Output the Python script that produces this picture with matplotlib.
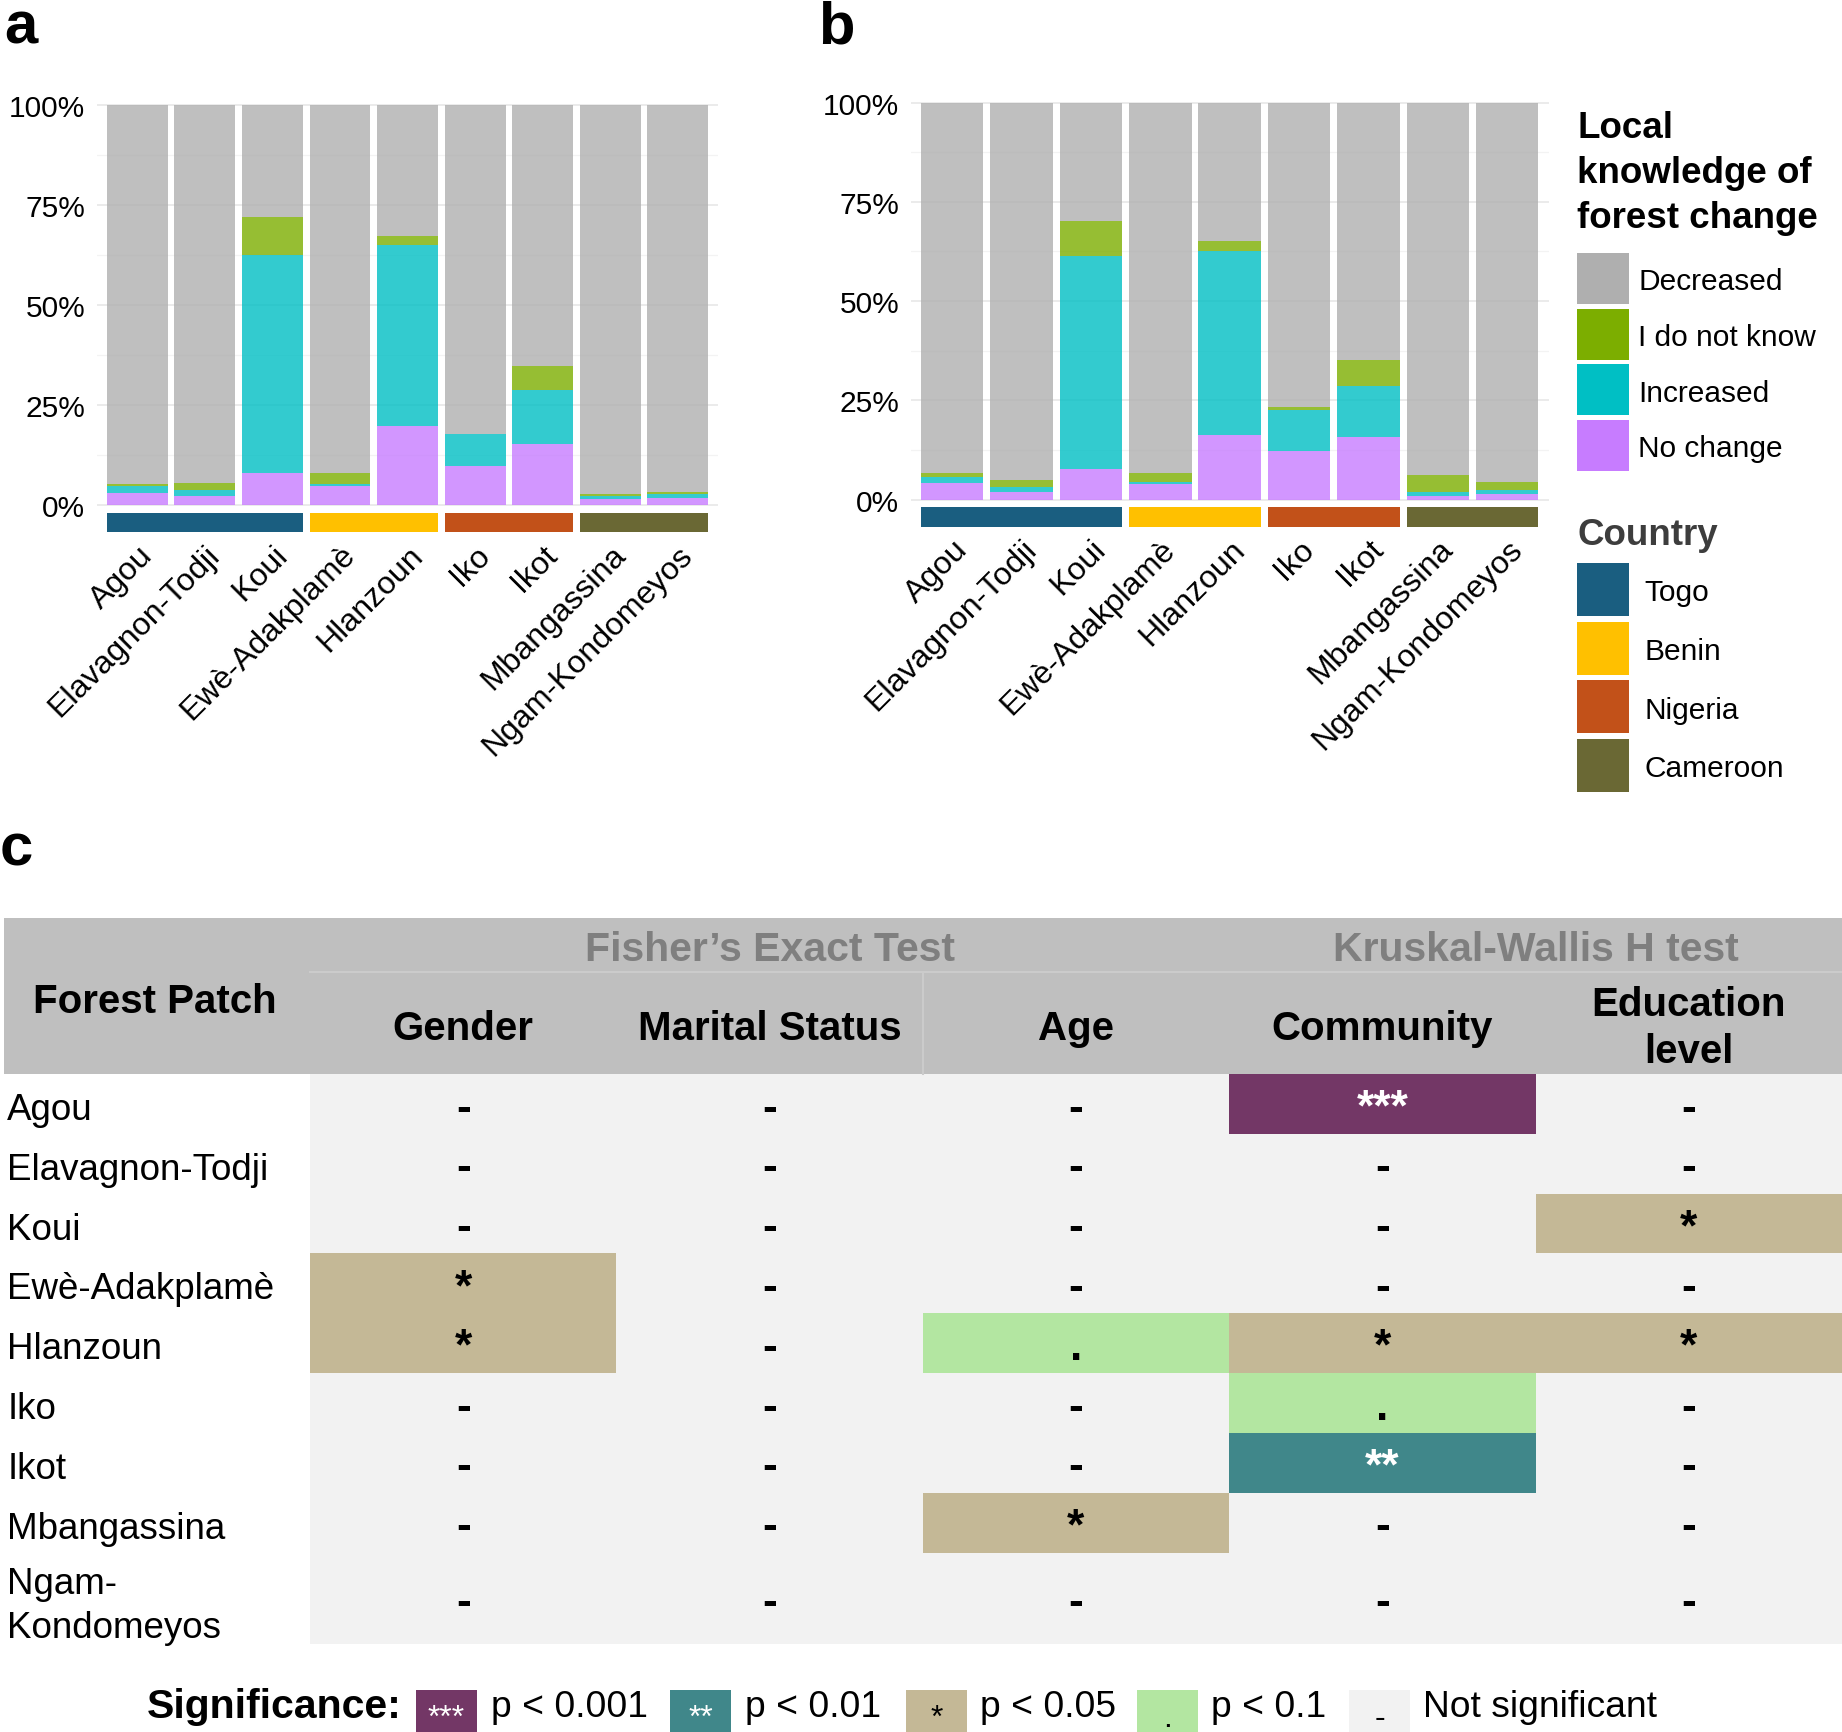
import numpy as np
import matplotlib
matplotlib.use("Agg")
import matplotlib.pyplot as plt
from matplotlib.patches import Rectangle

plt.rcParams["font.family"] = ["Liberation Sans", "DejaVu Sans"]

W, H = 1842, 1733

# ---- data --------------------------------------------------------------
PATCHES = ["Agou", "Elavagnon-Todji", "Koui", "Ewè-Adakplamè", "Hlanzoun",
           "Iko", "Ikot", "Mbangassina", "Ngam-Kondomeyos"]
COUNTRY_OF = ["Togo", "Togo", "Togo", "Benin", "Benin",
              "Nigeria", "Nigeria", "Cameroon", "Cameroon"]
COUNTRIES = ["Togo", "Benin", "Nigeria", "Cameroon"]
RESPONSES = ["Decreased", "I do not know", "Increased", "No change"]

# panel a (%)
NOCHANGE_A = [3.1, 2.2, 8.0, 4.8, 19.9, 9.9, 15.2, 1.5, 1.8]
INCREASED_A = [1.6, 1.5, 54.6, 0.6, 45.0, 7.8, 13.5, 0.8, 1.0]
IDK_A = [0.7, 1.9, 9.3, 2.6, 2.3, 0.0, 6.0, 0.5, 0.6]
DECREASED_A = [94.6, 94.4, 28.1, 92.0, 32.8, 82.3, 65.3, 97.2, 96.6]

# panel b (%)
NOCHANGE_B = [4.1, 1.8, 7.6, 3.9, 16.2, 12.3, 15.7, 1.0, 1.3]
INCREASED_B = [1.7, 1.3, 53.8, 0.5, 46.4, 10.2, 12.8, 0.8, 1.1]
IDK_B = [0.9, 1.7, 8.7, 2.3, 2.6, 0.8, 6.7, 4.5, 2.1]
DECREASED_B = [93.3, 95.2, 29.9, 93.3, 34.8, 76.7, 64.8, 93.7, 95.5]

# panel c
TABLE_ROWS = ["Agou", "Elavagnon-Todji", "Koui", "Ewè-Adakplamè", "Hlanzoun",
              "Iko", "Ikot", "Mbangassina", "Ngam-\nKondomeyos"]
SIG_COLUMNS = ["Gender", "Marital Status", "Age", "Community", "Education\nlevel"]
SIG = [
    ["-", "-", "-", "***", "-"],
    ["-", "-", "-", "-", "-"],
    ["-", "-", "-", "-", "*"],
    ["*", "-", "-", "-", "-"],
    ["*", "-", ".", "*", "*"],
    ["-", "-", "-", ".", "-"],
    ["-", "-", "-", "**", "-"],
    ["-", "-", "*", "-", "-"],
    ["-", "-", "-", "-", "-"],
]
SIG_LEVELS = ["***", "**", "*", ".", "-"]
SIG_LABELS = ["p < 0.001", "p < 0.01", "p < 0.05", "p < 0.1", "Not significant"]

# ---- styles ------------------------------------------------------------
RESP_COLORS = {"Decreased": "#AFAFAF", "I do not know": "#7CAE00",
               "Increased": "#00BFC4", "No change": "#C77CFF"}
COUNTRY_COLORS = {"Togo": "#1A5E80", "Benin": "#FFC000",
                  "Nigeria": "#C25119", "Cameroon": "#6A6834"}
SIG_FILL = {"***": "#733766", "**": "#40878A", "*": "#C4B896",
            ".": "#B3E6A1", "-": "#F2F2F2"}
SIG_TEXT = {"***": "white", "**": "white", "*": "black", ".": "black", "-": "black"}
STACK_ORDER = ["No change", "Increased", "I do not know", "Decreased"]


def px_axes(fig, x0, x1, y0, y1):
    return fig.add_axes([x0 / W, 1 - y1 / H, (x1 - x0) / W, (y1 - y0) / H])


def bar_panel(fig, box, stacks):
    ax = px_axes(fig, *box)
    x = np.arange(1, len(PATCHES) + 1)
    bottom = np.zeros(len(PATCHES))
    for name in STACK_ORDER:
        vals = np.array(stacks[name]) / 100
        ax.bar(x, vals, bottom=bottom, width=0.9, color=RESP_COLORS[name],
               alpha=0.8, linewidth=0, zorder=2)
        bottom += vals
    # country strip under the bars
    for c in COUNTRIES:
        idx = [i + 1 for i, cc in enumerate(COUNTRY_OF) if cc == c]
        left, right = idx[0] - 0.45, idx[-1] + 0.45
        ax.bar((left + right) / 2, 0.049, bottom=-0.068, width=right - left,
               color=COUNTRY_COLORS[c], linewidth=0, zorder=2)
    ax.set_xlim(0.4, 9.6)
    ax.set_ylim(-0.075, 1.01)
    ax.set_yticks([0, 0.25, 0.5, 0.75, 1.0])
    ax.set_yticklabels(["0%", "25%", "50%", "75%", "100%"], fontsize=21.5)
    ax.set_yticks([0.125, 0.375, 0.625, 0.875], minor=True)
    ax.grid(axis="y", which="major", color="#EBEBEB", lw=1.4, zorder=0)
    ax.grid(axis="y", which="minor", color="#F3F3F3", lw=0.9, zorder=0)
    ax.set_xticks(x)
    ax.set_xticklabels(PATCHES, rotation=45, ha="right", va="top",
                       rotation_mode="anchor", fontsize=23)
    ax.tick_params(axis="both", which="both", length=0)
    ax.tick_params(axis="y", pad=8.2)
    ax.tick_params(axis="x", pad=3)
    for s in ax.spines.values():
        s.set_visible(False)
    return ax


fig = plt.figure(figsize=(W / 100, H / 100), dpi=100)

bar_panel(fig, (96.7, 718.4, 102.0, 536.2),
          {"No change": NOCHANGE_A, "Increased": INCREASED_A,
           "I do not know": IDK_A, "Decreased": DECREASED_A})
bar_panel(fig, (910.6, 1548.8, 99.6, 530.3),
          {"No change": NOCHANGE_B, "Increased": INCREASED_B,
           "I do not know": IDK_B, "Decreased": DECREASED_B})

# ---- table (panel c) ---------------------------------------------------
HEAD1, HEAD2 = 0.9, 1.71
HEAD = HEAD1 + HEAD2
ROW_H = [1.0] * 8 + [1.53]
total = HEAD + sum(ROW_H)
tab = px_axes(fig, 3.5, 1842, 919, 1645)
tab.set_xlim(0, 6)
tab.set_ylim(total, 0)
tab.axis("off")

tab.barh(HEAD / 2, 6, left=0, height=HEAD, color="#BFBFBF", linewidth=0)
tab.plot([1, 6], [HEAD1, HEAD1], color="#CBCBCB", lw=1.5)
tab.plot([3, 3], [HEAD1, HEAD], color="#CBCBCB", lw=1.5)

tops = HEAD + np.concatenate([[0], np.cumsum(ROW_H)[:-1]])
centers = tops + np.array(ROW_H) / 2
for j in range(len(SIG_COLUMNS)):
    col = [SIG[i][j] for i in range(len(TABLE_ROWS))]
    tab.barh(centers, 1, left=j + 1, height=ROW_H,
             color=[SIG_FILL[v] for v in col], linewidth=0)
    for i, v in enumerate(col):
        tab.text(j + 1.5, centers[i] + 0.26, v, ha="center", va="baseline",
                 fontsize=32, fontweight="bold", color=SIG_TEXT[v])

for i, lab in enumerate(TABLE_ROWS):
    lines = lab.split("\n")
    if len(lines) == 1:
        tab.text(0.012, centers[i] + 0.25, lab, ha="left", va="baseline", fontsize=26.5)
    else:
        for k, ln in enumerate(lines):
            tab.text(0.012, tops[i] + 0.67 + 0.75 * k, ln, ha="left",
                     va="baseline", fontsize=26.5)

tab.text(0.096, 1.57, "Forest Patch", ha="left", va="baseline",
         fontsize=29, fontweight="bold")
for j, name in enumerate(SIG_COLUMNS):
    lines = name.split("\n")
    y0 = 2.02 if len(lines) == 1 else 1.62
    for k, ln in enumerate(lines):
        tab.text(j + 1.5, y0 + 0.79 * k, ln, ha="center", va="baseline",
                 fontsize=29, fontweight="bold")
tab.text(2.5, 0.71, "Fisher’s Exact Test", ha="center", va="baseline",
         fontsize=29.5, fontweight="bold", color="#7F7F7F")
tab.text(5.0, 0.71, "Kruskal-Wallis H test", ha="center", va="baseline",
         fontsize=29.5, fontweight="bold", color="#7F7F7F")

# ---- overlay: panel letters and legends --------------------------------
lay = fig.add_axes([0, 0, 1, 1], zorder=5)
lay.set_xlim(0, W)
lay.set_ylim(H, 0)
lay.axis("off")
lay.patch.set_alpha(0)

for letter, lx, ly in [("a", 4, 43), ("b", 818, 43), ("c", 0, 865)]:
    lay.text(lx, ly, letter, fontsize=43, fontweight="bold", va="baseline")

# response legend
for k, ln in enumerate(["Local", "knowledge of", "forest change"]):
    lay.text(1577, 138 + 45 * k, ln, fontsize=26.5, fontweight="bold", va="baseline")
for k, name in enumerate(RESPONSES):
    top = 254 + 55.7 * k
    lay.add_patch(Rectangle((1577, top), 52, 51, color=RESP_COLORS[name], lw=0))
    lay.text(1638, top + 25.5 + 10.7, name, fontsize=21.5, va="baseline")

# country legend
lay.text(1577, 545, "Country", fontsize=26.5, fontweight="bold",
         color="#3D3D3D", va="baseline")
for k, name in enumerate(COUNTRIES):
    top = 564 + 58.7 * k
    lay.add_patch(Rectangle((1577, top), 52, 53, color=COUNTRY_COLORS[name], lw=0))
    lay.text(1644, top + 26.5 + 10.7, name, fontsize=21.5, va="baseline")

# significance legend
lay.text(147, 1718, "Significance:", fontsize=29.5, fontweight="bold", va="baseline")
box_x = [416, 670, 906, 1137, 1349]
lab_x = [491, 745, 980, 1211, 1423]
for lvl, lab, bx, tx in zip(SIG_LEVELS, SIG_LABELS, box_x, lab_x):
    lay.add_patch(Rectangle((bx, 1691), 61, 42, color=SIG_FILL[lvl], lw=0))
    lay.text(bx + 30.5, 1727, lvl, fontsize=23, ha="center", va="baseline",
             color=SIG_TEXT[lvl])
    lay.text(tx, 1717, lab, fontsize=26.8, va="baseline")

fig.savefig("out.png", dpi=100)
